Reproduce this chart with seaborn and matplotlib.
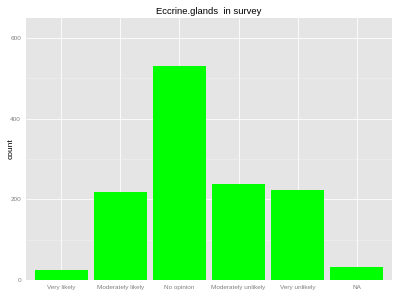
import matplotlib
matplotlib.use("Agg")
import matplotlib.pyplot as plt
import seaborn as sns
import pandas as pd
from matplotlib.ticker import MultipleLocator

categories = ["Very likely", "Moderately likely", "No opinion",
              "Moderately unlikely", "Very unlikely", "NA"]
counts = [24, 219, 530, 237, 222, 33]
yticks = [0, 200, 400, 600]

df = pd.DataFrame({"answer": categories, "count": counts})

sns.set_theme(style="darkgrid")
plt.rcParams['font.family'] = ['Liberation Sans', 'DejaVu Sans']

fig = plt.figure(figsize=(4, 3), dpi=100)
ax = fig.add_axes([0.065, 0.067, 0.915, 0.873])
ax.set_facecolor("#E5E5E5")

sns.barplot(data=df, x="answer", y="count", color="#00FF00", saturation=1,
            width=0.9, ax=ax, order=categories, edgecolor="none", linewidth=0)

ax.set_xlim(-0.6, 5.6)
ax.set_ylim(0, 650)
ax.set_yticks(yticks)
ax.yaxis.set_minor_locator(MultipleLocator(100))
ax.grid(True, which="major", color="white", linewidth=0.6)
ax.grid(True, which="minor", axis="y", color="#F0F0F0", linewidth=0.4)
ax.set_axisbelow(True)
for s in ax.spines.values():
    s.set_visible(False)

ax.tick_params(axis="both", which="major", labelsize=4.6, labelcolor="#808080",
               color="#808080", length=2, width=0.5, pad=1.5)
ax.tick_params(axis="both", which="minor", length=0)
ax.set_xlabel("")
ax.set_ylabel("count", fontsize=6, color="black")
ax.yaxis.set_label_coords(-0.032, 0.5)
ax.set_title("Eccrine.glands  in survey", fontsize=6.8, color="black", pad=3)

fig.savefig("out.png", dpi=100)
